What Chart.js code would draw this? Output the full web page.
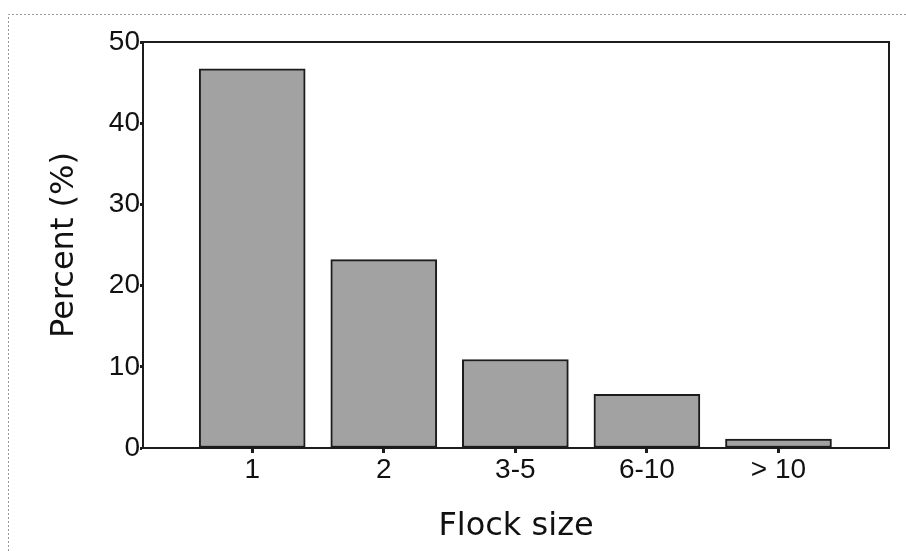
<!DOCTYPE html>
<html>
<head>
<meta charset="utf-8">
<title>Flock size</title>
<script src="https://cdn.jsdelivr.net/npm/chart.js@4.4.1/dist/chart.umd.min.js"></script>
<style>
  html, body { margin: 0; padding: 0; background: #fff; }
  #wrap { width: 906px; height: 551px; position: relative; }
  .warm { position: absolute; left: -999px; font-family: 'Liberation Sans'; font-size: 28px; }
</style>
</head>
<body>
<div id="wrap"><canvas id="flockChart"></canvas></div>
<span class="warm">0123456789-&gt;</span>
<script>
// data
const categories = ['1', '2', '3-5', '6-10', '> 10'];
const percent    = [46.7, 23.2, 10.9, 6.6, 1.1];
const yTicks     = [0, 10, 20, 30, 40, 50];

const INK = '#1c1c1c';
const TICK_FONT = '"Liberation Sans", Arial, Helvetica, sans-serif';

// box round the plot area + the dotted scan edge at top/left
const framePlugin = {
  id: 'frame',
  beforeDraw(chart) {
    const { ctx, width, height } = chart;
    ctx.save();
    ctx.strokeStyle = '#9a9a9a';
    ctx.lineWidth = 1;
    ctx.setLineDash([2, 2]);
    ctx.beginPath();
    ctx.moveTo(8.5, height); ctx.lineTo(8.5, 14.5); ctx.lineTo(width, 14.5);
    ctx.stroke();
    ctx.restore();
  },
  afterDatasetsDraw(chart) {
    const { ctx, chartArea: a } = chart;
    ctx.save();
    ctx.strokeStyle = INK;
    ctx.lineWidth = 2;
    ctx.strokeRect(a.left, a.top, a.right - a.left, a.bottom - a.top);
    ctx.restore();
  }
};

function drawChart() {
  const ctx = document.getElementById('flockChart').getContext('2d');
  new Chart(ctx, {
    type: 'bar',
    data: {
      datasets: [{
        label: 'Percent',
        data: categories.map((c, i) => ({ x: i, y: percent[i] })),
        backgroundColor: '#a2a2a2',
        borderColor: INK,
        borderWidth: 2,
        borderSkipped: false,
        barThickness: 106,
      }]
    },
    options: {
      responsive: true,
      maintainAspectRatio: false,
      animation: false,
      layout: { padding: { top: 42, right: 17, left: 0, bottom: 0 } },
      plugins: { legend: { display: false }, tooltip: { enabled: false } },
      scales: {
        x: {
          type: 'linear',
          offset: false,
          min: -0.83,
          max: 4.84,
          afterFit: s => { s.height = 103; },
          afterBuildTicks: s => { s.ticks = categories.map((c, i) => ({ value: i })); },
          grid: { display: true, offset: false, drawOnChartArea: false, drawTicks: true, tickLength: 5, tickWidth: 3, tickColor: INK },
          border: { display: true, color: INK, width: 2 },
          ticks: {
            padding: 0,
            color: '#111',
            font: { family: TICK_FONT, size: 28 },
            callback: v => categories[v] ?? '',
          },
          title: {
            display: true,
            text: 'Flock size',
            color: '#111',
            font: { family: 'DejaVu Sans', size: 32 },
            padding: { top: 0, bottom: 5 },
          },
        },
        y: {
          min: 0,
          max: 50,
          afterFit: s => { s.width = 143; },
          afterBuildTicks: s => { s.ticks = yTicks.map(v => ({ value: v })); },
          grid: { display: true, drawOnChartArea: false, drawTicks: true, tickLength: 3, tickWidth: 3, tickColor: INK },
          border: { display: true, color: INK, width: 2 },
          ticks: {
            padding: 0,
            color: '#111',
            font: { family: TICK_FONT, size: 28 },
          },
          title: {
            display: true,
            text: 'Percent (%)',
            color: '#111',
            font: { family: 'DejaVu Sans', size: 32 },
            padding: { top: 45, bottom: 0 },
          },
        },
      },
    },
    plugins: [framePlugin],
  });
}

document.fonts.load('28px "Liberation Sans"').then(drawChart, drawChart);
</script>
</body>
</html>
